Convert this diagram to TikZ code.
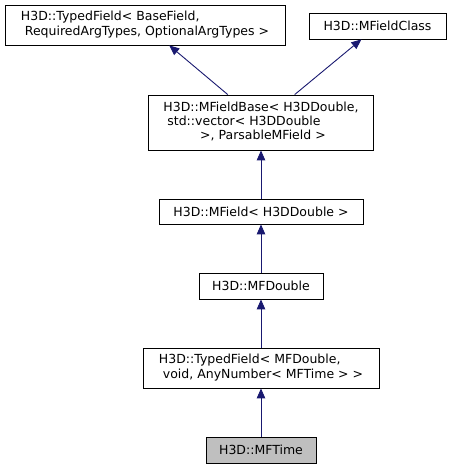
\documentclass[tikz,border=0pt]{standalone}
\usepackage{fontspec}
\setmainfont{DejaVu Sans}
\usetikzlibrary{arrows.meta}
\definecolor{edgeblue}{RGB}{25,25,112}
\definecolor{curgray}{RGB}{191,191,191}
\begin{document}
\begin{tikzpicture}[x=1pt,y=-1pt,
  cls/.style={draw=black, line width=0.8pt, fill=white, inner sep=0pt,
    font=\fontsize{12.5}{14.3}\selectfont, align=center},
  cur/.style={cls, fill=curgray},
  inh/.style={draw=edgeblue, line width=0.9pt,
    -{Triangle[length=10pt,width=8.5pt]}, color=edgeblue}]
\useasboundingbox (0,0) rectangle (450,469);
\node[cls, minimum width=280pt, minimum height=40pt] (tfbase) at (145,25)
  {\begin{tabular}{@{}l@{}}H3D::TypedField< BaseField,\\
   \multicolumn{1}{@{}c@{}}{\ RequiredArgTypes, OptionalArgTypes >}\end{tabular}};
\node[cls, minimum width=137pt, minimum height=26pt] (mfclass) at (377.5,26)
  {H3D::MFieldClass};
\node[cls, minimum width=225pt, minimum height=55pt] (mfbase) at (261,122.5)
  {\begin{tabular}{@{}l@{}}H3D::MFieldBase< H3DDouble,\\
   \ std::vector< H3DDouble\\
   \multicolumn{1}{@{}c@{}}{\ >, ParsableMField >}\end{tabular}};
\node[cls, minimum width=204pt, minimum height=25pt] (mfield) at (261,211.5)
  {H3D::MField< H3DDouble >};
\node[cls, minimum width=124pt, minimum height=26pt] (mfdouble) at (261,286)
  {H3D::MFDouble};
\node[cls, minimum width=236pt, minimum height=40pt] (tfmf) at (261,368)
  {\begin{tabular}{@{}l@{}}H3D::TypedField< MFDouble,\\
   \multicolumn{1}{@{}c@{}}{\ void, AnyNumber< MFTime > >}\end{tabular}};
\node[cur, minimum width=110pt, minimum height=26pt] (mftime) at (261,450)
  {H3D::MFTime};
\draw[inh] (mfbase) -- (tfbase);
\draw[inh] (mfbase) -- (mfclass);
\draw[inh] (mfield) -- (mfbase);
\draw[inh] (mfdouble) -- (mfield);
\draw[inh] (tfmf) -- (mfdouble);
\draw[inh] (mftime) -- (tfmf);
\end{tikzpicture}
\end{document}
